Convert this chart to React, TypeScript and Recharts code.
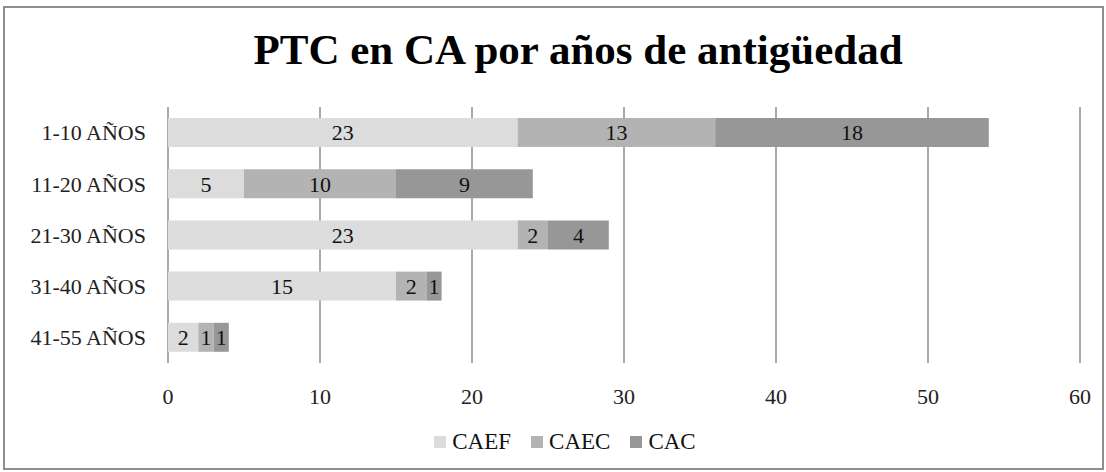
import { BarChart, Bar, XAxis, YAxis, CartesianGrid, Legend, LabelList } from "recharts";

const categories = ["1-10 AÑOS", "11-20 AÑOS", "21-30 AÑOS", "31-40 AÑOS", "41-55 AÑOS"];
const caef = [23, 5, 23, 15, 2];
const caec = [13, 10, 2, 2, 1];
const cac = [18, 9, 4, 1, 1];
const xTicks = [0, 10, 20, 30, 40, 50, 60];

const series = [
  { key: "CAEF", color: "#dcdcdc" },
  { key: "CAEC", color: "#b3b3b3" },
  { key: "CAC", color: "#979797" },
];

const data = categories.map((name, i) => ({
  name,
  CAEF: caef[i],
  CAEC: caec[i],
  CAC: cac[i],
}));

const FONT = "'Liberation Serif', 'DejaVu Serif', serif";

function LegendContent() {
  return (
    <div style={{ display: "flex", justifyContent: "center", gap: 20, fontFamily: FONT, fontSize: 23, color: "#111" }}>
      {series.map((s) => (
        <div key={s.key} style={{ display: "flex", alignItems: "center", gap: 6 }}>
          <span style={{ width: 12, height: 12, background: s.color, display: "inline-block" }} />
          <span>{s.key}</span>
        </div>
      ))}
    </div>
  );
}

export default function App() {
  return (
    <div style={{ position: "relative", width: 1106, height: 472, background: "#fff" }}>
      <style>{`body{margin:0}`}</style>
      <div
        style={{
          position: "absolute",
          left: 3,
          top: 6,
          width: 1097,
          height: 460,
          border: "2px solid #8e8e8e",
        }}
      />
      <div
        style={{
          position: "absolute",
          top: 25,
          left: 0,
          width: 1156,
          textAlign: "center",
          fontFamily: FONT,
          fontWeight: "bold",
          fontSize: 43,
          color: "#000",
        }}
      >
        PTC en CA por años de antigüedad
      </div>
      <div style={{ position: "absolute", left: 0, top: 0 }}>
        <BarChart
          width={1106}
          height={472}
          data={data}
          layout="vertical"
          barSize={29}
          margin={{ top: 107, right: 26, bottom: 17, left: 0 }}
        >
          <CartesianGrid horizontal={false} stroke="#8c8c8c" strokeWidth={1.5} />
          <XAxis
            type="number"
            domain={[0, 60]}
            ticks={xTicks}
            axisLine={false}
            tickLine={false}
            tickMargin={19}
            height={66}
            tick={{ fontFamily: FONT, fontSize: 22, fill: "#222" }}
          />
          <YAxis
            type="category"
            dataKey="name"
            width={168}
            axisLine={false}
            tickLine={false}
            tickMargin={16}
            tick={{ fontFamily: FONT, fontSize: 22, fill: "#222" }}
          />
          {series.map((s) => (
            <Bar key={s.key} dataKey={s.key} stackId="a" fill={s.color} isAnimationActive={false}>
              <LabelList dataKey={s.key} position="center" fill="#111" fontSize={22} fontFamily={FONT} />
            </Bar>
          ))}
          <Legend
            verticalAlign="bottom"
            content={<LegendContent />}
            wrapperStyle={{ left: 12, width: 1106, height: 26 }}
          />
        </BarChart>
      </div>
    </div>
  );
}
